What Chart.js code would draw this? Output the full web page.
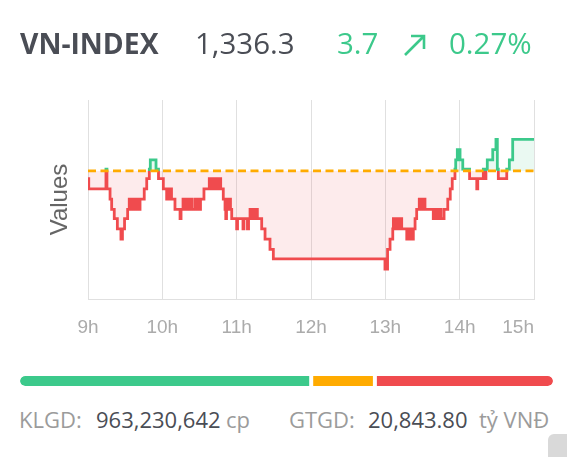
<!DOCTYPE html>
<html>
<head>
<meta charset="utf-8">
<script src="https://cdn.jsdelivr.net/npm/chart.js@4.4.1/dist/chart.umd.min.js"></script>
<style>
    html, body { margin: 0; padding: 0; background: #fff; }
    body { width: 567px; height: 457px; position: relative; overflow: hidden; font-family: 'Open Sans', sans-serif; }
    .t { position: absolute; white-space: nowrap; line-height: 1; }
    .dark { color: #4a4d55; }
    .gray { color: #9b9b9b; }
    .up { color: #3cc98b; }
    #priceChart { position: absolute; left: 0; top: 0; }
    #breadthChart { position: absolute; left: 20px; top: 376px; }
    .knob { position: absolute; left: 548px; top: 434px; width: 30px; height: 40px; background: #d9d9d9; border-radius: 6px; }
</style>
</head>
<body>
<canvas id="priceChart" width="567" height="360"></canvas>
<canvas id="breadthChart" width="533" height="10"></canvas>

<div class="t dark" style="left:20px; top:29px; font-size:28.3px; font-weight:700;">VN-INDEX</div>
<div class="t dark" style="left:195px; top:28px; font-size:29.5px;">1,336.3</div>
<div class="t up" style="left:337px; top:28px; font-size:29.5px;">3.7</div>
<svg style="position:absolute; left:403px; top:33px;" width="24" height="24" viewBox="0 0 24 24">
    <path d="M2 22 L21 3 M8 3 H21 V16" fill="none" stroke="#3cc98b" stroke-width="2.6"/>
</svg>
<div class="t up" style="left:449px; top:28px; font-size:29.5px;">0.27%</div>

<div class="t gray" style="left:19px; top:408px; font-size:22px;">KLGD:</div>
<div class="t dark" style="left:96px; top:408px; font-size:22px;">963,230,642</div>
<div class="t gray" style="left:226px; top:408px; font-size:22px;">cp</div>
<div class="t gray" style="left:289px; top:408px; font-size:22px;">GTGD:</div>
<div class="t dark" style="left:368px; top:408px; font-size:22px;">20,843.80</div>
<div class="t gray" style="left:479px; top:408px; font-size:22px;">tỷ VNĐ</div>
<div class="knob"></div>

<script>
// minutes after 9:00 where the index changed, and the new level
const TIMES = [
    0, 0.6, 14.5, 15.3, 17.8, 19.1, 21.2, 23.7, 26.6, 27.8, 29.5, 32.0, 33.3, 35.3, 37.1, 39.1, 40.4, 41.2, 42.0,
    45.4, 47.4, 49.5, 50.3, 54.9, 56.9, 60.8, 63.5, 64.6, 65.4, 66.6, 67.4, 70.2, 74.3, 75.1, 76.7, 78.3, 79.5,
    80.7, 82.3, 83.9, 86.4, 88.0, 89.2, 90.0, 90.8, 93.6, 97.9, 99.3, 100.1, 101.7, 102.5, 104.1, 104.9, 107.1,
    109.2, 110.6, 111.2, 111.8, 113.0, 114.2, 115.0, 116.0, 120.0, 120.7, 125.1, 125.9, 128.7, 129.6, 130.8,
    132.4, 133.2, 134.8, 135.6, 136.7, 140.2, 142.9, 146.9, 149.6,
    239.7, 241.8, 243.8, 246.0, 246.5, 248.6, 249.4, 251.0, 251.8, 253.2, 257.3, 258.3, 259.5, 260.7, 261.5,
    262.6, 264.0, 265.3, 267.4, 269.2, 270.4, 272.0, 278.7, 280.1, 281.7, 283.3, 284.9, 287.4, 290.4, 292.4,
    294.0, 296.2, 296.8, 298.1, 300.3, 302.5, 308.0, 313.8, 314.6, 319.1, 320.5, 321.2, 322.3, 326.7, 329.3,
    330.4, 331.2, 338.0, 340.1, 342.8, 360
]
const PRICES = [
    1331.7, 1330.5, 1332.8, 1330.5, 1329.3, 1328.1, 1327.0, 1325.8, 1324.6, 1325.8, 1327.0, 1328.1, 1329.3, 1328.1, 1329.3, 1328.1, 1329.3, 1328.1, 1329.3,
    1330.5, 1331.7, 1332.8, 1333.9, 1332.8, 1331.7, 1330.5, 1329.3, 1330.5, 1329.3, 1330.5, 1329.3, 1328.1, 1327.0, 1328.1, 1329.3, 1328.1, 1329.3,
    1328.1, 1329.3, 1328.1, 1329.3, 1328.1, 1329.3, 1328.1, 1329.3, 1330.5, 1331.7, 1330.5, 1331.7, 1330.5, 1331.7, 1330.5, 1331.7, 1330.5,
    1329.3, 1328.1, 1327.0, 1329.3, 1328.1, 1329.3, 1328.1, 1327.0, 1325.8, 1327.0, 1325.8, 1327.0, 1325.8, 1327.0, 1328.1,
    1327.0, 1328.1, 1327.0, 1328.1, 1327.0, 1325.8, 1324.6, 1323.4, 1322.3,
    1321.1, 1323.4, 1324.6, 1325.8, 1327.0, 1325.8, 1327.0, 1325.8, 1327.0, 1325.8, 1324.6, 1325.8, 1324.6, 1325.8, 1324.6,
    1325.8, 1327.0, 1328.1, 1329.3, 1328.1, 1329.3, 1328.1, 1327.0, 1328.1, 1327.0, 1328.1, 1327.0, 1328.1, 1329.3, 1330.5,
    1331.7, 1332.8, 1333.9, 1335.1, 1333.9, 1332.8, 1331.7, 1330.5, 1331.7, 1332.8, 1331.7, 1332.8, 1333.9, 1335.1, 1336.3,
    1332.8, 1331.7, 1332.8, 1333.9, 1336.3, 1336.3
]
const REF_PRICE = 1332.6
const Y_MIN = 1317.6
const Y_MAX = 1340.9
const HOUR_TICKS = [0, 60, 120, 180, 240, 300, 360]
const HOUR_LABELS = ['9h', '10h', '11h', '12h', '13h', '14h', '15h']

// advancing / unchanged / declining
const BREADTH_LABELS = ['Tăng', 'Đứng giá', 'Giảm']
const BREADTH_COUNTS = [224, 49, 137]

const GREEN = '#3cc98b'
const RED = '#f04b4e'
const ORANGE = '#ffab00'
const GRID = 'rgba(0,0,0,0.12)'
const AXIS_FONT = "'Liberation Sans', Arial, sans-serif"

function splitColor(context) {
    const chart = context.chart
    const area = chart.chartArea
    if (!area) return RED
    const refY = chart.scales.y.getPixelForValue(REF_PRICE)
    let stop = (refY - area.top) / (area.bottom - area.top)
    stop = Math.min(1, Math.max(0, stop))
    const g = chart.ctx.createLinearGradient(0, area.top, 0, area.bottom)
    g.addColorStop(0, GREEN)
    g.addColorStop(stop, GREEN)
    g.addColorStop(stop, RED)
    g.addColorStop(1, RED)
    return g
}

const priceChart = new Chart(document.getElementById('priceChart'), {
    type: 'line',
    data: {
        datasets: [
            {
                data: [{ x: HOUR_TICKS[0], y: REF_PRICE }, { x: HOUR_TICKS[HOUR_TICKS.length - 1], y: REF_PRICE }],
                borderColor: ORANGE,
                borderWidth: 2.6,
                borderDash: [8, 4.5],
                pointRadius: 0,
                fill: false
            },
            {
                data: TIMES.map((t, i) => ({ x: t, y: PRICES[i] })),
                stepped: true,
                borderColor: splitColor,
                borderWidth: 2.8,
                pointRadius: 0,
                fill: { value: REF_PRICE, above: 'rgba(60,201,139,0.11)', below: 'rgba(240,75,78,0.11)' }
            }
        ]
    },
    options: {
        responsive: false,
        animation: false,
        layout: { padding: { left: 42.2, right: 33, top: 100, bottom: 4.2 } },
        plugins: { legend: { display: false }, tooltip: { enabled: false } },
        scales: {
            x: {
                type: 'linear',
                min: HOUR_TICKS[0],
                max: HOUR_TICKS[HOUR_TICKS.length - 1],
                afterBuildTicks: axis => {
                    // extra blank first tick so 'inner' only pushes the last label
                    axis.ticks = [{ value: HOUR_TICKS[0] }].concat(HOUR_TICKS.map(v => ({ value: v })))
                },
                ticks: {
                    autoSkip: false,
                    maxRotation: 0,
                    align: 'inner',
                    padding: 17,
                    color: '#ababab',
                    font: { size: 19, family: AXIS_FONT },
                    callback: (v, i) => i === 0 ? '' : HOUR_LABELS[i - 1]
                },
                grid: { color: ctx => ctx.index === 0 ? 'rgba(0,0,0,0)' : GRID, drawTicks: false },
                border: { color: GRID }
            },
            y: {
                min: Y_MIN,
                max: Y_MAX,
                ticks: { display: false },
                grid: { display: false, drawTicks: false },
                border: { display: false },
                title: {
                    display: true,
                    text: 'Values',
                    color: '#666',
                    font: { size: 24, family: AXIS_FONT },
                    padding: { top: 4, bottom: 13 }
                }
            }
        }
    }
})

const breadthChart = new Chart(document.getElementById('breadthChart'), {
    type: 'bar',
    data: {
        labels: ['HOSE'],
        datasets: [
            {
                label: BREADTH_LABELS[0], data: [BREADTH_COUNTS[0]], backgroundColor: GREEN,
                borderColor: '#fff', borderWidth: { right: 2 }, borderRadius: { topLeft: 5, bottomLeft: 5 }
            },
            {
                label: BREADTH_LABELS[1], data: [BREADTH_COUNTS[1]], backgroundColor: ORANGE,
                borderColor: '#fff', borderWidth: { left: 2, right: 2 }, borderRadius: 0
            },
            {
                label: BREADTH_LABELS[2], data: [BREADTH_COUNTS[2]], backgroundColor: RED,
                borderColor: '#fff', borderWidth: { left: 2 }, borderRadius: { topRight: 5, bottomRight: 5 }
            }
        ]
    },
    options: {
        indexAxis: 'y',
        responsive: false,
        animation: false,
        layout: { padding: 0 },
        datasets: { bar: { barPercentage: 1, categoryPercentage: 1, borderSkipped: false, inflateAmount: 0 } },
        plugins: { legend: { display: false }, tooltip: { enabled: false } },
        scales: {
            x: { stacked: true, display: false, min: 0, max: BREADTH_COUNTS.reduce((a, b) => a + b, 0) },
            y: { stacked: true, display: false }
        }
    }
})
</script>
</body>
</html>
